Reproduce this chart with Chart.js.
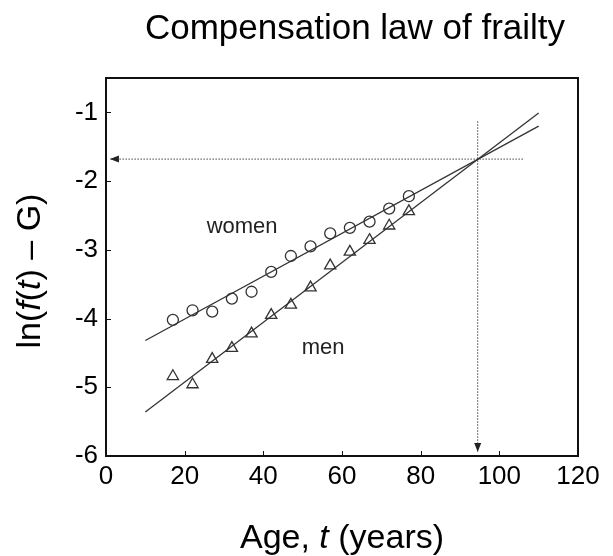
<!DOCTYPE html>
<html>
<head>
<meta charset="utf-8">
<script src="https://cdn.jsdelivr.net/npm/chart.js@4.4.0/dist/chart.umd.min.js"></script>
<style>
    html, body { margin: 0; padding: 0; background: #fff; }
    #wrap { width: 613px; height: 556px; }
</style>
</head>
<body>
<div id="wrap"><canvas id="chart" width="613" height="556"></canvas></div>
<script>
const ages = [17, 22, 27, 32, 37, 42, 47, 52, 57, 62, 67, 72, 77];
const women = [-4.02, -3.88, -3.90, -3.71, -3.61, -3.32, -3.09, -2.95, -2.76, -2.68, -2.59, -2.40, -2.22];
const men = [-4.84, -4.96, -4.59, -4.43, -4.22, -3.95, -3.80, -3.55, -3.23, -3.03, -2.86, -2.65, -2.44];

// fitted lines, end points
const fitAges = [10, 110];
const womenFit = [-4.32, -1.20];
const menFit = [-5.36, -1.01];

// dotted guides from the convergence point to both axes
const crossAge = 94.5;
const crossValue = -1.68;
const hGuideAges = [106, 1];
const vGuideValues = [-1.13, -5.94];

const xTicks = [0, 20, 40, 60, 80, 100, 120];
const yTicks = [-6, -5, -4, -3, -2, -1];

const notes = [
    { text: 'women', x: 34.6, y: -2.67 },
    { text: 'men', x: 55.2, y: -4.43 },
];

const TITLE = 'Compensation law of frailty';
const FONT = '"Liberation Sans", Arial, sans-serif';
const INK = '#333';

const toPoints = (xs, ys) => xs.map((x, i) => ({ x: x, y: ys[i] }));

// draws a run of text pieces, some of them italic, centred on (0, 0)
const drawPieces = (ctx, pieces, size) => {
    const fontOf = (it) => `${it ? 'italic ' : ''}${size}px ${FONT}`;
    let total = 0;
    pieces.forEach(([t, it]) => { ctx.font = fontOf(it); total += ctx.measureText(t).width; });
    let x = -total / 2;
    pieces.forEach(([t, it]) => {
        ctx.font = fontOf(it);
        ctx.fillText(t, x, 0);
        x += ctx.measureText(t).width;
    });
};

const decor = {
    id: 'decor',
    afterDatasetsDraw(chart) {
        const { ctx, chartArea: a, scales } = chart;
        ctx.save();

        // arrow heads at the end of the guides
        ctx.fillStyle = '#222';
        chart.data.datasets.forEach((ds, i) => {
            if (!ds.arrow) return;
            const pts = chart.getDatasetMeta(i).data;
            const p0 = pts[pts.length - 2], p1 = pts[pts.length - 1];
            const ang = Math.atan2(p1.y - p0.y, p1.x - p0.x);
            ctx.save();
            ctx.translate(p1.x, p1.y);
            ctx.rotate(ang);
            ctx.beginPath();
            ctx.moveTo(0, 0);
            ctx.lineTo(-9, -3.5);
            ctx.lineTo(-9, 3.5);
            ctx.closePath();
            ctx.fill();
            ctx.restore();
        });

        // box and inward ticks
        ctx.strokeStyle = '#111';
        ctx.lineWidth = 2;
        ctx.strokeRect(a.left, a.top, a.width, a.height);
        ctx.lineWidth = 1;
        ctx.beginPath();
        xTicks.forEach((v) => {
            const px = Math.round(scales.x.getPixelForValue(v)) + 0.5;
            ctx.moveTo(px, a.bottom);
            ctx.lineTo(px, a.bottom - 5);
        });
        yTicks.forEach((v) => {
            const py = Math.round(scales.y.getPixelForValue(v)) + 0.5;
            ctx.moveTo(a.left, py);
            ctx.lineTo(a.left + 5, py);
        });
        ctx.stroke();

        // series notes
        ctx.fillStyle = '#222';
        ctx.font = `22px ${FONT}`;
        ctx.textAlign = 'center';
        ctx.textBaseline = 'middle';
        notes.forEach((n) => {
            ctx.fillText(n.text, scales.x.getPixelForValue(n.x), scales.y.getPixelForValue(n.y));
        });

        // title and axis titles
        ctx.fillStyle = '#000';
        ctx.textBaseline = 'alphabetic';
        ctx.font = `35px ${FONT}`;
        ctx.fillText(TITLE, 355, 39);
        ctx.textAlign = 'left';
        ctx.save();
        ctx.translate((a.left + a.right) / 2, 548);
        drawPieces(ctx, [['Age, ', false], ['t', true], [' (years)', false]], 34);
        ctx.restore();
        ctx.save();
        ctx.translate(40, (a.top + a.bottom) / 2 + 4);
        ctx.rotate(-Math.PI / 2);
        drawPieces(ctx, [['ln(', false], ['f', true], ['(', false], ['t', true], [') \u2013 G)', false]], 34);
        ctx.restore();

        ctx.restore();
    }
};

new Chart(document.getElementById('chart'), {
    type: 'scatter',
    data: {
        datasets: [
            {
                label: 'women',
                data: toPoints(ages, women),
                pointStyle: 'circle',
                pointRadius: 5.5,
                borderWidth: 1.3,
                borderColor: INK,
                backgroundColor: 'rgba(255,255,255,0)',
            },
            {
                label: 'men',
                data: toPoints(ages, men),
                pointStyle: 'triangle',
                pointRadius: 6.5,
                borderWidth: 1.3,
                borderColor: INK,
                backgroundColor: 'rgba(255,255,255,0)',
            },
            {
                label: 'women fit',
                data: toPoints(fitAges, womenFit),
                showLine: true,
                pointRadius: 0,
                borderWidth: 1.3,
                borderColor: INK,
            },
            {
                label: 'men fit',
                data: toPoints(fitAges, menFit),
                showLine: true,
                pointRadius: 0,
                borderWidth: 1.3,
                borderColor: INK,
            },
            {
                label: 'h guide',
                data: hGuideAges.map((x) => ({ x: x, y: crossValue })),
                showLine: true,
                pointRadius: 0,
                borderWidth: 1,
                borderDash: [1.5, 1.5],
                borderColor: '#444',
                arrow: true,
            },
            {
                label: 'v guide',
                data: vGuideValues.map((y) => ({ x: crossAge, y: y })),
                showLine: true,
                pointRadius: 0,
                borderWidth: 1,
                borderDash: [1.5, 1.5],
                borderColor: '#444',
                arrow: true,
            },
        ]
    },
    options: {
        animation: false,
        responsive: false,
        layout: { padding: { top: 78, right: 35 } },
        plugins: {
            legend: { display: false },
            tooltip: { enabled: false },
            title: { display: false },
        },
        scales: {
            x: {
                type: 'linear',
                min: 0,
                max: 120,
                afterBuildTicks: (s) => { s.ticks = xTicks.map((v) => ({ value: v })); },
                afterFit: (s) => { s.height = 100; },
                grid: { display: false, drawTicks: false },
                border: { display: false },
                ticks: { color: '#000', padding: 5, font: { family: FONT, size: 26 } },
            },
            y: {
                type: 'linear',
                min: -6,
                max: -0.5,
                afterBuildTicks: (s) => { s.ticks = yTicks.map((v) => ({ value: v })); },
                afterFit: (s) => { s.width = 106; },
                grid: { display: false, drawTicks: false },
                border: { display: false },
                ticks: { color: '#000', padding: 8, font: { family: FONT, size: 26 } },
            },
        },
    },
    plugins: [decor],
});
</script>
</body>
</html>
